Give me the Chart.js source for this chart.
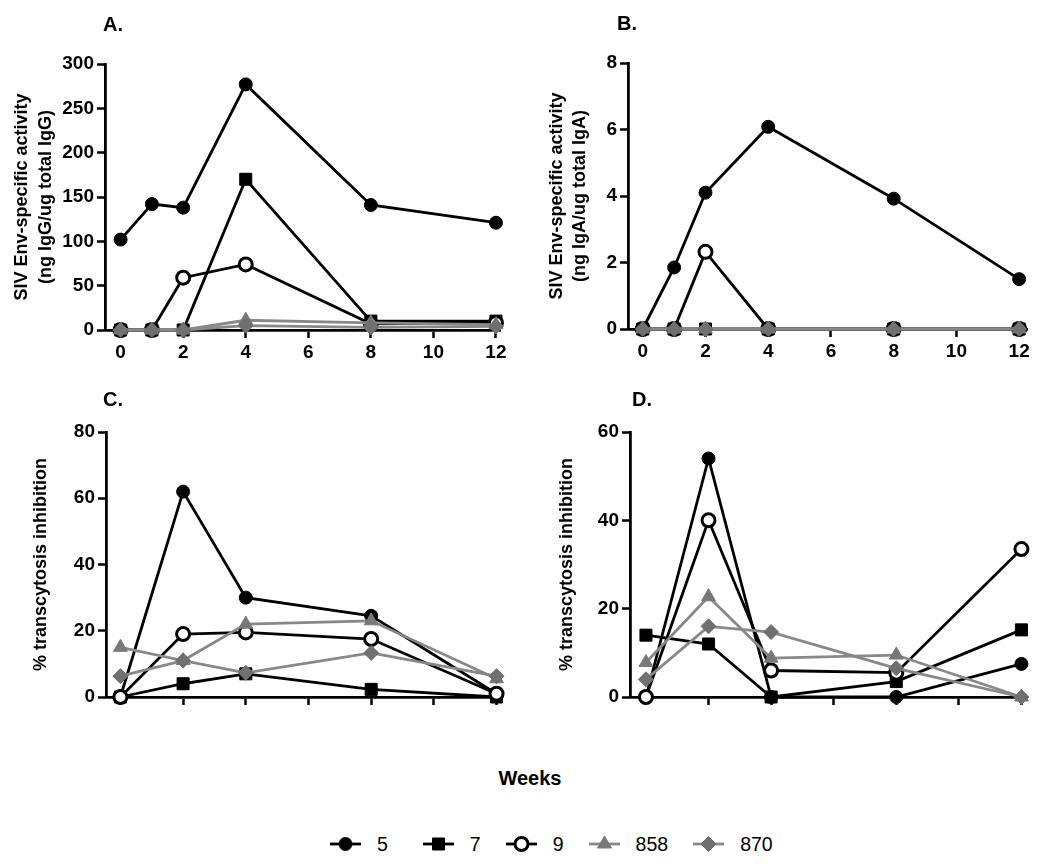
<!DOCTYPE html>
<html>
<head>
<meta charset="utf-8">
<script src="https://cdn.jsdelivr.net/npm/chart.js@4.4.1/dist/chart.umd.min.js"></script>
<style>
  body { margin: 0; background: #fff; font-family: "Liberation Sans", Arial, sans-serif; }
  #page { position: relative; width: 1050px; height: 865px; overflow: hidden; }
  .panel { position: absolute; }
  .tag { position: absolute; font-weight: bold; font-size: 20px; line-height: 20px; color: #000; }
  #weeks { position: absolute; left: 430px; width: 200px; top: 768px; text-align: center;
           font-weight: bold; font-size: 20px; line-height: 20px; }
  #legend { position: absolute; left: 329px; top: 834px; display: flex; align-items: center; }
  .item { display: flex; align-items: center; margin-right: 24px; font-size: 19.5px; line-height: 20px; }
  .item canvas { margin-right: 15px; }
</style>
</head>
<body>
<div id="page">
  <canvas id="chartA" class="panel" width="520" height="370" style="left:0;top:0"></canvas>
  <canvas id="chartB" class="panel" width="530" height="370" style="left:520px;top:0"></canvas>
  <canvas id="chartC" class="panel" width="520" height="370" style="left:0;top:375px"></canvas>
  <canvas id="chartD" class="panel" width="530" height="370" style="left:520px;top:375px"></canvas>
  <div class="tag" style="left:103px;top:14px">A.</div>
  <div class="tag" style="left:617px;top:13px">B.</div>
  <div class="tag" style="left:103px;top:389px">C.</div>
  <div class="tag" style="left:632px;top:389px">D.</div>
  <div id="weeks">Weeks</div>
  <div id="legend"></div>
</div>
<script>
// weeks sampled
var weeksAB = [0, 1, 2, 4, 8, 12];
var weeksCD = [0, 2, 4, 8, 12];
var weekTicks = [0, 2, 4, 6, 8, 10, 12];

var animals = ['5', '7', '9', '858', '870'];

// A. IgG specific activity
var igg5   = [102, 142, 138, 277, 141, 121];
var igg7   = [0, 0, 0, 170, 10, 10];
var igg9   = [0, 0, 59, 74, 7, 8];
var igg858 = [0, 0, 0, 11, 8, 6];
var igg870 = [0, 0, 0, 5, 3, 4];
var iggTicks = [0, 50, 100, 150, 200, 250, 300];

// B. IgA specific activity
var iga5   = [0, 1.85, 4.1, 6.08, 3.92, 1.5];
var iga7   = [0, 0, 0, 0, 0, 0];
var iga9   = [0, 0, 2.32, 0, 0, 0];
var iga858 = [0, 0, 0, 0, 0, 0];
var iga870 = [0, 0, 0, 0, 0, 0];
var igaTicks = [0, 2, 4, 6, 8];

// C. % transcytosis inhibition
var inhC5   = [0, 62, 30, 24.5, 1];
var inhC7   = [0, 4, 7, 2.3, 0];
var inhC9   = [0, 19, 19.5, 17.5, 1];
var inhC858 = [15, 11, 22, 23, 5.5];
var inhC870 = [6.3, 11, 7.3, 13.3, 6.3];
var inhCTicks = [0, 20, 40, 60, 80];

// D. % transcytosis inhibition
var inhD5   = [0, 54, 0, 0, 7.5];
var inhD7   = [14, 12, 0, 3.5, 15.2];
var inhD9   = [0, 40, 6, 5.5, 33.5];
var inhD858 = [7.8, 22.7, 8.8, 9.5, 0];
var inhD870 = [4, 16, 14.7, 6.5, 0];
var inhDTicks = [0, 20, 40, 60];

var black = '#000000';
var grayLine = '#888888';
var grayMark = '#787878';

var looks = [
  { line: black, pointStyle: 'circle', radius: 6.5, fill: black, edge: black, edgeW: 1 },
  { line: black, pointStyle: 'rect', radius: 8.5, fill: black, edge: black, edgeW: 1 },
  { line: black, pointStyle: 'circle', radius: 6.5, fill: '#ffffff', edge: black, edgeW: 3 },
  { line: grayLine, pointStyle: 'triangle', radius: 8, fill: grayMark, edge: grayMark, edgeW: 1 },
  { line: grayLine, pointStyle: 'rectRot', radius: 7.5, fill: '#707070', edge: '#707070', edgeW: 1 }
];

Chart.defaults.font.family = '"Liberation Sans", Arial, sans-serif';
Chart.defaults.color = '#000';

function makeSets(weeks, lists) {
  return lists.map(function (vals, i) {
    var lk = looks[i];
    return {
      label: animals[i],
      data: weeks.map(function (w, j) { return { x: w, y: vals[j] }; }),
      borderColor: lk.line,
      borderWidth: 2.8,
      backgroundColor: lk.fill,
      pointStyle: lk.pointStyle,
      pointRadius: lk.radius,
      pointBackgroundColor: lk.fill,
      pointBorderColor: lk.edge,
      pointBorderWidth: lk.edgeW,
      tension: 0,
      clip: false,
      order: 5 - i
    };
  });
}

function tickSetter(list) {
  return function (scale) {
    scale.ticks = list.map(function (v) { return { value: v }; });
  };
}

function drawPanel(id, p) {
  new Chart(document.getElementById(id), {
    type: 'line',
    data: { datasets: makeSets(p.weeks, p.lists) },
    options: {
      responsive: false,
      animation: false,
      devicePixelRatio: 1,
      layout: { padding: { top: p.top, left: 0, right: p.right, bottom: 10 } },
      plugins: { legend: { display: false }, tooltip: { enabled: false } },
      scales: {
        x: {
          type: 'linear',
          min: p.xmin,
          max: p.xmax,
          afterBuildTicks: tickSetter(weekTicks),
          afterFit: function (s) { s.height = p.xh; },
          border: { color: black, width: 2.8 },
          grid: { drawOnChartArea: false, drawTicks: true, tickLength: 8, tickColor: black, tickWidth: 2.5 },
          ticks: { display: p.xLabels, font: { size: 19, weight: 'bold' }, color: black, padding: 3, maxRotation: 0 }
        },
        y: {
          type: 'linear',
          min: p.yTicks[0],
          max: p.yTicks[p.yTicks.length - 1],
          afterBuildTicks: tickSetter(p.yTicks),
          afterFit: function (s) { s.width = p.yw; },
          border: { color: black, width: 2.8 },
          grid: { drawOnChartArea: false, drawTicks: true, tickLength: 8, tickColor: black, tickWidth: 2.5 },
          ticks: { font: { size: 19, weight: 'bold' }, color: black, padding: 3 },
          title: {
            display: true,
            text: p.title,
            color: black,
            font: { size: 18, weight: 'bold', lineHeight: 1.28 },
            padding: { top: p.titlePad, bottom: 0 }
          }
        }
      }
    }
  });
}

drawPanel('chartA', {
  weeks: weeksAB, lists: [igg5, igg7, igg9, igg858, igg870], yTicks: iggTicks,
  title: ['SIV Env-specific activity', '(ng IgG/ug total IgG)'],
  top: 64, right: 20, xh: 30, yw: 105, xmin: -0.5, xmax: 12.13, titlePad: 11, xLabels: true
});
drawPanel('chartB', {
  weeks: weeksAB, lists: [iga5, iga7, iga9, iga858, iga870], yTicks: igaTicks,
  title: ['SIV Env-specific activity', '(ng IgA/ug total IgA)'],
  top: 63, right: 23, xh: 31, yw: 108, xmin: -0.47, xmax: 12.25, titlePad: 25.5, xLabels: true
});
drawPanel('chartC', {
  weeks: weeksCD, lists: [inhC5, inhC7, inhC9, inhC858, inhC870], yTicks: inhCTicks,
  title: '% transcytosis inhibition',
  top: 57, right: 20, xh: 38, yw: 106, xmin: -0.46, xmax: 12.11, titlePad: 29.5, xLabels: false
});
drawPanel('chartD', {
  weeks: weeksCD, lists: [inhD5, inhD7, inhD9, inhD858, inhD870], yTicks: inhDTicks,
  title: '% transcytosis inhibition',
  top: 57, right: 27, xh: 38, yw: 110, xmin: -0.51, xmax: 12.05, titlePad: 35.5, xLabels: false
});

// shared legend: line + marker icon, then animal id
var legend = document.getElementById('legend');
animals.forEach(function (name, i) {
  var lk = looks[i];
  var item = document.createElement('div');
  item.className = 'item';
  if (i === 0) item.style.marginRight = '34px';
  var icon = document.createElement('canvas');
  icon.width = 33; icon.height = 20;
  var ctx = icon.getContext('2d');
  ctx.strokeStyle = lk.line;
  ctx.lineWidth = 2.8;
  ctx.beginPath(); ctx.moveTo(1, 10); ctx.lineTo(32, 10); ctx.stroke();
  ctx.fillStyle = lk.fill;
  ctx.strokeStyle = lk.edge;
  ctx.lineWidth = lk.edgeW;
  Chart.helpers.drawPoint(ctx, { pointStyle: lk.pointStyle, radius: lk.radius, rotation: 0, borderWidth: lk.edgeW }, 16.5, 10);
  var label = document.createElement('span');
  label.textContent = name;
  item.appendChild(icon);
  item.appendChild(label);
  legend.appendChild(item);
});
</script>
</body>
</html>
